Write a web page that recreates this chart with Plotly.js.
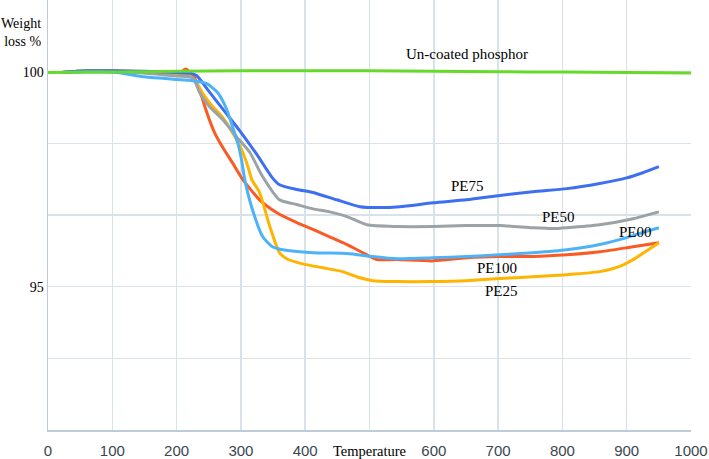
<!DOCTYPE html>
<html>
<head>
<meta charset="utf-8">
<script src="https://cdn.plot.ly/plotly-3.0.1.min.js"></script>
<style>html,body{margin:0;padding:0;background:#fff;}#chart{width:709px;height:459px;}</style>
</head>
<body>
<div id="chart"></div>
<script>
// Temperature (x) and weight-loss % (y)
const greenT = [0, 100, 200, 300, 400, 500, 600, 700, 800, 900, 1000];
const greenW = [99.98, 99.99, 100.01, 100.02, 100.02, 100.02, 100.01, 100.0, 99.99, 99.98, 99.97];

const pe75T = [21, 60, 100, 150, 200, 222, 231, 251, 275, 298, 325, 349, 360, 387, 412, 449, 485, 516, 547, 599, 651, 703, 754, 807, 858, 900, 925, 950];
const pe75W = [99.98, 100.02, 100.02, 100.01, 99.98, 99.96, 99.91, 99.53, 99.07, 98.63, 98.07, 97.53, 97.37, 97.26, 97.19, 97.02, 96.86, 96.84, 96.86, 96.95, 97.02, 97.12, 97.21, 97.28, 97.40, 97.53, 97.65, 97.79];

const pe00T = [21, 60, 107, 150, 200, 220, 247, 264, 278, 287, 295, 301, 306, 318, 334, 349, 365, 412, 465, 505, 542, 599, 651, 703, 754, 807, 858, 900, 925, 950];
const pe00W = [99.98, 100.0, 99.98, 99.88, 99.82, 99.80, 99.72, 99.51, 99.12, 98.72, 98.35, 97.95, 97.49, 96.79, 96.16, 95.93, 95.86, 95.79, 95.77, 95.70, 95.65, 95.67, 95.70, 95.74, 95.79, 95.86, 95.98, 96.14, 96.26, 96.37];

const pe100T = [21, 60, 100, 150, 190, 205, 214, 222, 228, 239, 247, 259, 272, 287, 303, 329, 356, 387, 412, 438, 465, 474, 496, 511, 542, 599, 651, 703, 754, 807, 858, 910, 950];
const pe100W = [99.98, 100.02, 100.02, 99.99, 99.95, 99.97, 100.06, 99.97, 99.86, 99.42, 99.05, 98.58, 98.23, 97.88, 97.49, 97.02, 96.72, 96.49, 96.33, 96.16, 95.98, 95.91, 95.74, 95.63, 95.63, 95.60, 95.67, 95.70, 95.70, 95.74, 95.81, 95.93, 96.02];

const pe25T = [21, 60, 100, 142, 194, 217, 228, 240, 256, 272, 287, 301, 311, 317, 329, 345, 360, 371, 396, 427, 458, 480, 505, 542, 599, 651, 703, 754, 807, 858, 889, 910, 950];
const pe25W = [99.98, 100.02, 100.01, 99.98, 99.93, 99.91, 99.81, 99.51, 99.19, 98.93, 98.58, 98.19, 97.79, 97.49, 97.19, 96.40, 95.79, 95.65, 95.53, 95.44, 95.35, 95.23, 95.14, 95.12, 95.12, 95.14, 95.19, 95.23, 95.28, 95.35, 95.47, 95.63, 96.02];

const pe50T = [21, 60, 100, 150, 200, 225, 236, 251, 272, 293, 314, 333, 360, 387, 412, 438, 465, 496, 542, 599, 651, 703, 754, 785, 807, 858, 910, 950];
const pe50W = [99.98, 100.02, 100.01, 99.97, 99.90, 99.86, 99.51, 99.19, 98.88, 98.49, 98.12, 97.58, 97.02, 96.91, 96.81, 96.74, 96.63, 96.44, 96.40, 96.40, 96.42, 96.42, 96.37, 96.35, 96.37, 96.44, 96.58, 96.74];

const xTickVals = [0, 100, 200, 300, 400, 500, 600, 700, 800, 900, 1000];
const xTickText = ['0', '100', '200', '300', '400', '<span style="font-family:\'Liberation Serif\',serif;font-size:14.5px;color:#000">Temperature</span>', '600', '700', '800', '900', '1000'];
const yTickVals = [91.6667, 93.3333, 95, 96.6667, 98.3333, 100, 101.6667];
const yTickText = ['', '', '95', '', '', '100', ''];

const labelNames = ['Un-coated phosphor', 'PE75', 'PE50', 'PE00', 'PE100', 'PE25'];
const labelT = [651, 653, 794, 913, 698, 706];
const labelW = [100.40, 97.33, 96.63, 96.26, 95.44, 94.91];

function series(x, y, color) {
  return {x: x, y: y, type: 'scatter', mode: 'lines',
    line: {color: color, width: 3, shape: 'spline', smoothing: 0.6},
    hoverinfo: 'skip', showlegend: false};
}

const data = [
  series(pe100T, pe100W, '#fa5a23'),
  series(pe25T, pe25W, '#ffb400'),
  series(pe50T, pe50W, '#9ba3a6'),
  series(pe75T, pe75W, '#3d6ff0'),
  series(pe00T, pe00W, '#4db2f7'),
  series(greenT, greenW, '#66d92a')
];

const annotations = labelNames.map((t, i) => ({
  x: labelT[i], y: labelW[i], xref: 'x', yref: 'y', text: t, showarrow: false,
  font: {family: 'Liberation Serif, serif', size: 15, color: '#000'}
}));
annotations.push({
  x: -0.008, y: 0.925, xref: 'paper', yref: 'paper', xanchor: 'right', yanchor: 'middle',
  align: 'right', text: 'Weight<br>loss %', showarrow: false,
  font: {family: 'Liberation Serif, serif', size: 14, color: '#000'}
});

const layout = {
  width: 709, height: 459,
  margin: {l: 48, r: 18, t: 0, b: 29, pad: 0},
  paper_bgcolor: '#fff', plot_bgcolor: '#fff',
  xaxis: {
    range: [0, 1000], tickmode: 'array', tickvals: xTickVals, ticktext: xTickText,
    showgrid: true, gridcolor: '#d9e2e9', gridwidth: 1.5,
    showline: true, linecolor: '#bccbd6', linewidth: 1.5, zeroline: false,
    ticks: '', ticklabelstandoff: 6,
    tickfont: {family: 'Liberation Sans Narrow, Arial Narrow, Liberation Sans, sans-serif', size: 15, color: '#3b4650'}
  },
  yaxis: {
    range: [91.6667, 101.6667], tickmode: 'array', tickvals: yTickVals, ticktext: yTickText,
    showgrid: true, gridcolor: '#d9e2e9', gridwidth: 1.5,
    showline: true, linecolor: '#bccbd6', linewidth: 1.5, zeroline: false,
    ticks: '',
    tickfont: {family: 'Liberation Serif, serif', size: 14, color: '#000'}
  },
  annotations: annotations
};

Plotly.newPlot('chart', data, layout, {staticPlot: true, displayModeBar: false});
</script>
</body>
</html>
